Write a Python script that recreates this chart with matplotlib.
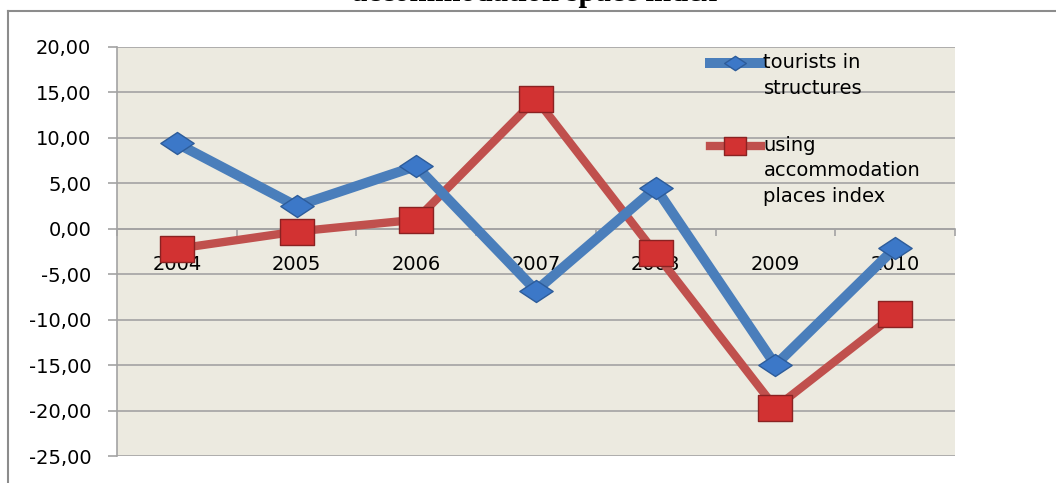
import numpy as np
import matplotlib
matplotlib.use("Agg")
import matplotlib.pyplot as plt
from matplotlib.path import Path
from matplotlib.lines import Line2D
from matplotlib.legend_handler import HandlerLine2D
from matplotlib.ticker import FixedLocator, FuncFormatter

years = ["2004", "2005", "2006", "2007", "2008", "2009", "2010"]
tourists = [9.4, 2.5, 6.9, -6.8, 4.5, -15.0, -2.1]
accommodation = [-2.2, -0.3, 1.0, 14.3, -2.7, -19.7, -9.4]
labels = ["tourists in\nstructures", "using\naccommodation\nplaces index"]
title = "accommodation space index"

W, H = 1056, 483
LINE_PT = 18.7  # legend line height in points


class TopLineHandler(HandlerLine2D):
    # put the handle next to the first text line instead of the middle
    def __init__(self, nlines, **kw):
        super().__init__(**kw)
        self.nlines = nlines

    def create_artists(self, legend, orig_handle, xdescent, ydescent,
                       width, height, fontsize, trans):
        arts = super().create_artists(legend, orig_handle, xdescent, ydescent,
                                      width, height, fontsize, trans)
        shift = (self.nlines - 1) / 2 * LINE_PT
        for a in arts:
            a.set_ydata(np.asarray(a.get_ydata()) + shift)
        return arts


fig = plt.figure(figsize=(W / 100, H / 100), dpi=100)
fig.patch.set_facecolor("white")

# plot area in pixels: x 117..955, y 47..456
ax = fig.add_axes([117 / W, 1 - 456 / H, (955 - 117) / W, (456 - 47) / H])
ax.set_facecolor("#ECEAE0")

grid_c = "#A3A3A3"
x = np.arange(len(years))

diamond = Path([(-1, 0), (0, 0.66), (1, 0), (0, -0.66), (-1, 0)],
               [Path.MOVETO, Path.LINETO, Path.LINETO, Path.LINETO, Path.CLOSEPOLY])
square = Path([(-1, -0.8), (1, -0.8), (1, 0.8), (-1, 0.8), (-1, -0.8)],
              [Path.MOVETO, Path.LINETO, Path.LINETO, Path.LINETO, Path.CLOSEPOLY])

l1, = ax.plot(x, tourists, color="#4A7EBB", lw=7.2, solid_joinstyle="miter",
              marker=diamond, markersize=24, markerfacecolor="#3C78C8",
              markeredgecolor="#2D5C9A", markeredgewidth=1, label=labels[0], zorder=4)
l2, = ax.plot(x, accommodation, color="#C0504D", lw=6, solid_joinstyle="miter",
              marker=square, markersize=24, markerfacecolor="#D23232",
              markeredgecolor="#8A2222", markeredgewidth=1, label=labels[1], zorder=3)

ax.set_xlim(-0.5, len(years) - 0.5)
ax.set_ylim(-25, 20)
ax.set_yticks(np.arange(-25, 21, 5))
ax.yaxis.set_major_formatter(FuncFormatter(lambda v, p: f"{v:.2f}".replace(".", ",")))
ax.grid(axis="y", color=grid_c, lw=1.2, zorder=0)
ax.set_axisbelow(True)

for s in ["top", "right"]:
    ax.spines[s].set_visible(False)
ax.spines["left"].set_color(grid_c)
ax.spines["left"].set_linewidth(1.2)
ax.spines["bottom"].set_position(("data", 0))
ax.spines["bottom"].set_color(grid_c)
ax.spines["bottom"].set_linewidth(1.2)

ax.set_xticks(x)
ax.set_xticklabels(years)
ax.xaxis.set_minor_locator(FixedLocator(np.arange(-0.5, len(years), 1.0)))
ax.tick_params(axis="x", which="major", length=0, pad=19, labelsize=14)
ax.tick_params(axis="x", which="minor", length=5, color=grid_c, width=1.2, direction="out")
ax.tick_params(axis="y", length=6.5, color=grid_c, width=1.2, pad=12, labelsize=14)

leg = ax.legend(handles=[l1, l2], loc="upper left", bbox_to_anchor=(710 / W, 1 - 53 / H),
                bbox_transform=fig.transFigure, frameon=False, fontsize=14,
                handlelength=2.6, handletextpad=0.15, labelspacing=1.95,
                markerscale=0.65, borderpad=0, borderaxespad=0,
                handler_map={l1: TopLineHandler(2), l2: TopLineHandler(3)})
for t in leg.get_texts():
    t.set_linespacing(1.45)

# chart title, clipped at the top edge
fig.text(534 / W, 1 - 1 / H, title, ha="center", va="baseline",
         fontsize=22, fontweight="bold", family="Liberation Serif")

# outer chart frame
fig.add_artist(Line2D([8 / W, 1], [1 - 11 / H, 1 - 11 / H], transform=fig.transFigure,
                      color="#8C8C8C", lw=1.5))
fig.add_artist(Line2D([8 / W, 8 / W], [0, 1 - 11 / H], transform=fig.transFigure,
                      color="#8C8C8C", lw=1.5))

fig.savefig("out.png", dpi=100)
